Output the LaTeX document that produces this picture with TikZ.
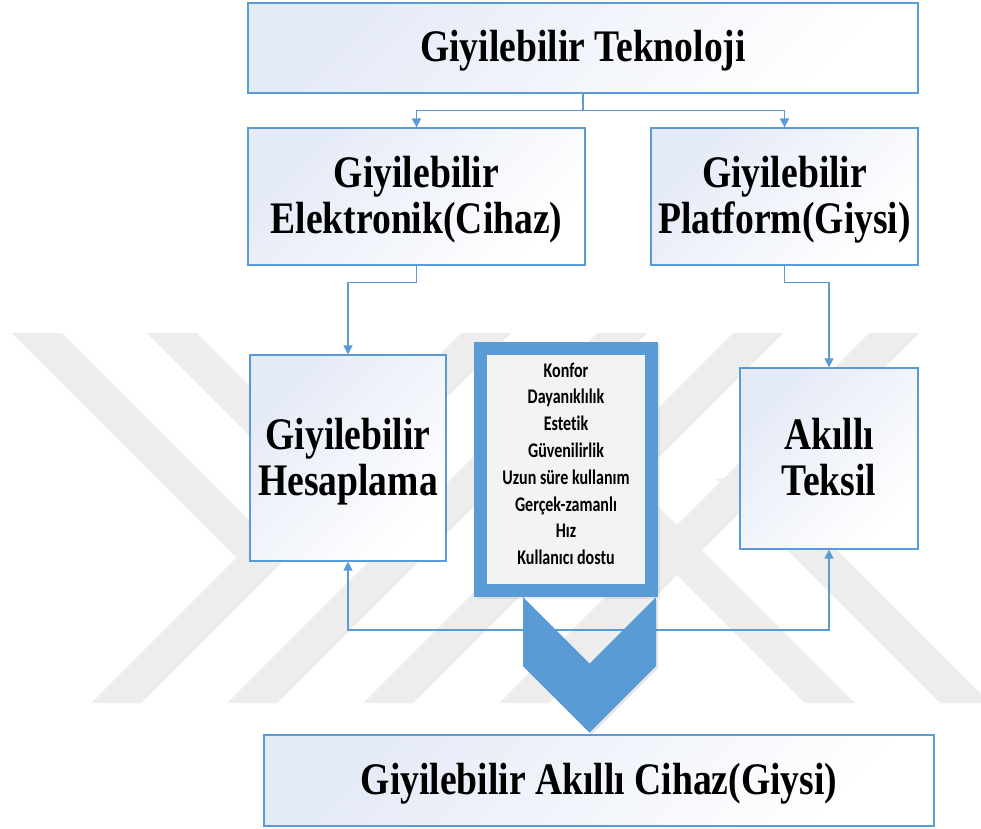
\documentclass[tikz,border=0pt]{standalone}
\usepackage{fontspec}
\setmainfont{Liberation Serif}
\newfontfamily\listfont{Carlito}[Ligatures=NoCommon]
\usepackage{graphicx}
\usetikzlibrary{arrows.meta}
\definecolor{office}{RGB}{91,155,213}
\definecolor{boxshade}{RGB}{228,234,246}
\definecolor{wmark}{RGB}{237,237,237}
\definecolor{listfill}{RGB}{243,243,243}
% tall, slightly condensed lettering, nudged inside its box
\newcommand\tall[1]{\raisebox{-3pt}[\height][\depth]{\scalebox{1}[1.2]{#1}}}
\newcommand\lines[1]{\raisebox{-5pt}[\height][\depth]{\scalebox{1}[1.2]{\begin{tabular}{@{}c@{}}#1\end{tabular}}}}
\newcommand\listlines[1]{\raisebox{4pt}[\height][\depth]{\scalebox{1}[1.3]{\begin{tabular}{@{}c@{}}#1\end{tabular}}}}

\begin{document}
\begin{tikzpicture}[x=1pt,y=-1pt,
  box/.style={draw=office, line width=1.2pt, inner sep=0pt,
    top color=boxshade, bottom color=white, shading angle=45,
    font=\bfseries\fontsize{37.6}{38.6}\selectfont},
  listbox/.style={draw=office, line width=13pt, inner sep=0pt, fill=listfill,
    font=\listfont\bfseries\fontsize{16}{20.6}\selectfont},
  conn/.style={draw=office, line width=1.4pt, -{Triangle[length=9pt,width=9pt]}},
  wm/.style={fill=wmark}]

% canvas
\fill[white] (0,0) rectangle (981,828);
\useasboundingbox (0,0) rectangle (981,828);

% background mark: four long slanted bars with short side bars
\foreach \b in {91,227,363,499}
  \fill[wm] (\b,703) -- (\b+50,703) -- (\b+420,333) -- (\b+370,333) -- cycle;
\foreach \t in {12,147}
  \fill[wm] (\t,333) -- (\t+50,333) -- (\t+274.5,557.5) -- (\t+224.5,557.5) -- cycle;
\foreach \t in {20,155}
  \fill[wm] (1010-\t,703) -- (960-\t,703) -- (735.5-\t,478.5) -- (785.5-\t,478.5) -- cycle;

% boxes
\node[box, minimum width=670, minimum height=90] (top) at (583,48)
  {\tall{Giyilebilir Teknoloji}};
\node[box, minimum width=337, minimum height=137] (elec) at (416.5,196.5)
  {\lines{Giyilebilir\\Elektronik(Cihaz)}};
\node[box, minimum width=267, minimum height=137] (plat) at (784.5,196.5)
  {\lines{Giyilebilir\\Platform(Giysi)}};
\node[box, minimum width=196, minimum height=206] (hes) at (348,458)
  {\lines{Giyilebilir\\Hesaplama}};
\node[box, minimum width=178, minimum height=181] (teks) at (829,458.5)
  {\lines{Akıllı\\Teksil}};
\node[box, minimum width=670, minimum height=91] (goal) at (599,780.5)
  {\tall{Giyilebilir Akıllı Cihaz(Giysi)}};

% soft shadow of the requirement frame
\fill[black, opacity=0.07] (476,344) rectangle (660,599);
\node[listbox, minimum width=171, minimum height=242] (req) at (566,469.5)
  {\listlines{Konfor\\Dayanıklılık\\Estetik\\Güvenilirlik\\Uzun süre kullanım\\Gerçek-zamanlı\\Hız\\Kullanıcı dostu}};

% connectors
\draw[conn] (top.south) -- ++(0,17) -| (elec.north);
\draw[conn] (top.south) -- ++(0,17) -| (plat.north);
\draw[conn] (elec.south) -- ++(0,17) -| (hes.north);
\draw[conn] (plat.south) -- ++(0,17) -| (teks.north);
\coordinate (hub) at (589.5,630);
\draw[conn] (hub) -| (hes.south);
\draw[conn] (hub) -| (teks.south);

% big chevron pointing down to the result
\fill[black, opacity=0.10] (525,599) -- (591.5,665.5) -- (658,599) -- (658,668) -- (591.5,734.5) -- (525,668) -- cycle;
\fill[office] (523,597) -- (589.5,663.5) -- (656,597) -- (656,666) -- (589.5,732.5) -- (523,666) -- cycle;
\end{tikzpicture}
\end{document}
